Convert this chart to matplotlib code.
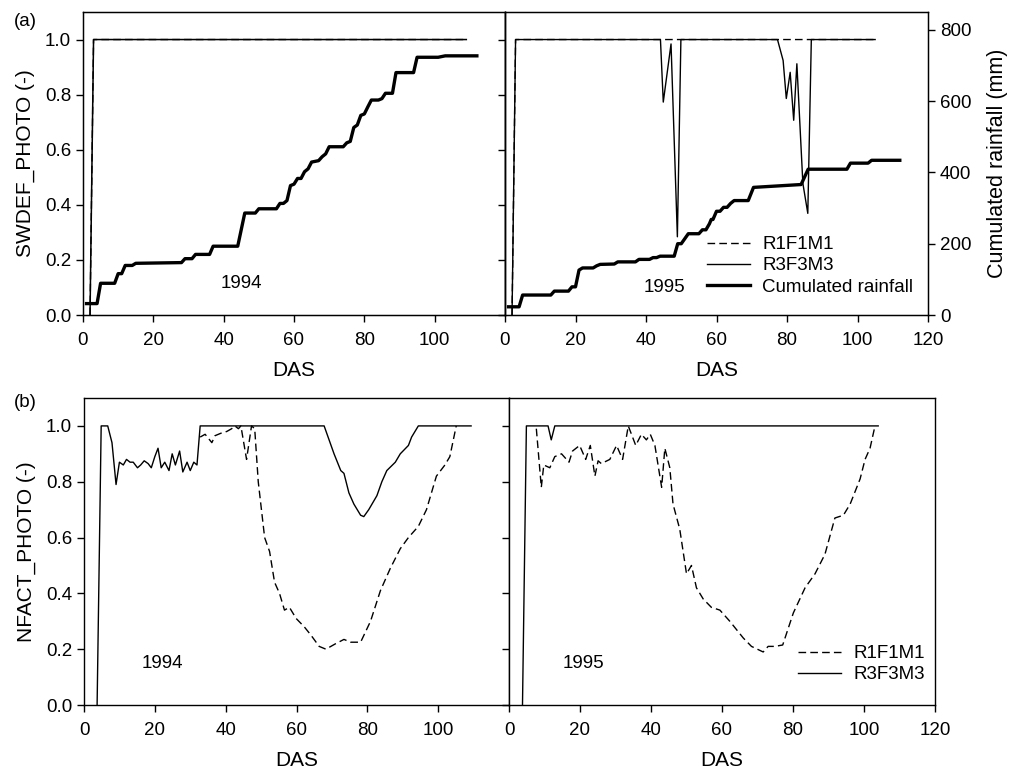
import matplotlib
matplotlib.use("Agg")
import matplotlib.pyplot as plt
from matplotlib.lines import Line2D

plt.rcParams["font.family"] = ["Liberation Sans", "DejaVu Sans"]
plt.rcParams["font.size"] = 13.5
plt.rcParams["axes.labelsize"] = 15

# (a) water deficit factor, DAS / value
swdef94_x = [2, 3, 109]
swdef94_r1 = [0, 1, 1]
swdef94_r3 = [0, 1, 1]

swdef95_r1_x = [2, 3, 105]
swdef95_r1 = [0, 1, 1]
swdef95_r3_x = [2, 3, 44.1, 44.9, 47.1, 48.9, 49.9, 77.3, 78.9, 79.8, 80.9,
                81.9, 82.8, 84.5, 85.9, 86.9, 105]
swdef95_r3 = [0, 1, 1, 0.773, 0.984, 0.284, 1, 1, 0.924, 0.786, 0.881,
              0.707, 0.912, 0.478, 0.369, 1, 1]

# cumulated rainfall (mm)
rain94_x = [1, 4, 5, 9, 10, 11, 12, 14, 15, 28, 29, 31, 32, 36, 37, 44, 46, 49,
            50, 55, 56, 57, 58, 59, 60, 61, 62, 63, 64, 65, 67, 68, 69, 70, 74,
            75, 76, 77, 78, 79, 80, 81, 82, 84, 85, 86, 88, 89, 94, 95, 101,
            103, 112]
rain94 = [32, 32, 89, 89, 116, 116, 139, 139, 145, 147, 158, 158, 170, 170,
          193, 193, 286, 286, 298, 298, 313, 313, 321, 363, 367, 383, 383, 402,
          410, 429, 433, 444, 452, 472, 472, 483, 487, 526, 533, 560, 564, 584,
          603, 603, 607, 622, 622, 680, 680, 723, 723, 727, 727]

rain95_x = [1, 4, 5, 13, 14, 18, 19, 20, 21, 22, 25, 26, 27, 31, 32, 37, 38,
            41, 42, 43, 44, 48, 49, 50, 52, 55, 56, 57, 58, 58.5, 59, 60, 61,
            62, 63, 64, 65, 69, 70.5, 84, 86, 97, 98, 103, 104, 112]
rain95 = [23, 23, 56, 56, 67, 67, 79, 79, 126, 132, 132, 138, 142, 143, 149,
          149, 156, 156, 161, 161, 165, 165, 200, 200, 228, 228, 239, 239, 256,
          268, 268, 291, 291, 302, 302, 313, 321, 321, 358, 366, 409, 409, 426,
          426, 434, 434]

# (b) nitrogen factor
nf94_r3_x = [3.7, 4.85, 6.7, 7.9, 9.05, 10, 11.1, 12, 13, 13.9, 15.1, 16, 17,
             18.1, 19, 20, 20.9, 21.8, 22.8, 24, 24.9, 25.8, 27, 27.9, 29.1,
             30, 31, 31.9, 32.8, 67.8, 69.2, 70.6, 72.5, 73.4, 74.8, 76.2,
             78.1, 79, 80.4, 82.7, 84.1, 85.5, 87.9, 89.3, 91.6, 92.5, 94.4,
             109.3]
nf94_r3 = [0, 1, 1, 0.94, 0.79, 0.87, 0.86, 0.88, 0.87, 0.87, 0.85, 0.86,
           0.875, 0.865, 0.85, 0.89, 0.92, 0.85, 0.87, 0.84, 0.9, 0.86, 0.91,
           0.835, 0.87, 0.84, 0.87, 0.86, 1, 1, 0.95, 0.9, 0.84, 0.83, 0.76,
           0.72, 0.68, 0.675, 0.7, 0.75, 0.8, 0.84, 0.87, 0.9, 0.93, 0.96, 1,
           1]
nf94_r1_x = [32.8, 34.2, 36.1, 37, 38.9, 40.3, 41.7, 42.6, 43.6, 44.3, 45.9,
             47.3, 48.2, 49.2, 51, 52.4, 53.8, 55.2, 56.6, 58, 59.9, 62.2,
             64.1, 66.4, 68.3, 71.1, 73.4, 75.3, 78.1, 80.9, 83.7, 86.5, 89.3,
             91.6, 94.4, 96.7, 99.5, 101.9, 103.3, 105.1]
nf94_r1 = [0.96, 0.97, 0.94, 0.965, 0.975, 0.98, 0.99, 1, 0.99, 1, 0.88, 1,
           0.99, 0.8, 0.6, 0.55, 0.44, 0.4, 0.34, 0.35, 0.31, 0.28, 0.25,
           0.21, 0.2, 0.22, 0.235, 0.225, 0.225, 0.3, 0.41, 0.49, 0.56, 0.6,
           0.64, 0.7, 0.82, 0.86, 0.89, 1]

nf95_r3_x = [3.8, 4.9, 11, 11.9, 12.9, 104]
nf95_r3 = [0, 1, 1, 0.95, 1, 1]
nf95_r1_x = [7.7, 9.1, 9.8, 11.5, 12.9, 14.8, 16.9, 17.9, 19.9, 21.6, 22.9,
             24.2, 25.1, 26, 28.4, 30.3, 32, 33.6, 35.7, 37.3, 38.7, 39.8,
             41.1, 43, 43.9, 45.3, 46.2, 48.1, 50, 51.4, 52.8, 54.7, 57, 59.4,
             62.2, 64.1, 66, 68.3, 71.6, 73, 74.9, 77.1, 80.1, 83.4, 86.2, 89,
             91.8, 94.2, 96.1, 98.9, 100.3, 101.7, 103.1]
nf95_r1 = [0.99, 0.78, 0.86, 0.85, 0.89, 0.9, 0.87, 0.91, 0.93, 0.88, 0.93,
           0.82, 0.875, 0.865, 0.88, 0.93, 0.88, 1, 0.93, 0.97, 0.95, 0.97,
           0.93, 0.78, 0.92, 0.85, 0.72, 0.63, 0.47, 0.5, 0.42, 0.38, 0.35,
           0.34, 0.3, 0.27, 0.24, 0.21, 0.19, 0.21, 0.21, 0.215, 0.33, 0.42,
           0.47, 0.54, 0.67, 0.68, 0.72, 0.81, 0.88, 0.92, 1]

DASH = (5.5, 3)
W, H = 1009, 774


def box(x0, y_top, x1, y_bot):
    return [x0 / W, 1 - y_bot / H, (x1 - x0) / W, (y_bot - y_top) / H]


def style(ax, left_labels=True):
    ax.set_xlim(0, 120)
    ax.set_ylim(0, 1.1)
    ax.set_yticks([0, 0.2, 0.4, 0.6, 0.8, 1.0])
    ax.tick_params(direction="out", length=5, width=1, top=False, right=False,
                   labelleft=left_labels)
    ax.tick_params(axis="x", pad=7)
    for s in ax.spines.values():
        s.set_linewidth(1)
    ax.set_xlabel("DAS", labelpad=9)
    if left_labels:
        ax.set_xticks([0, 20, 40, 60, 80, 100])
        ax.yaxis.set_major_formatter(matplotlib.ticker.FormatStrFormatter("%.1f"))
    else:
        ax.set_xticks([0, 20, 40, 60, 80, 100, 120])


fig = plt.figure(figsize=(10.09, 7.74), dpi=100)

# ---- (a) ----
ax1 = fig.add_axes(box(83, 12, 505, 315))
ax2 = fig.add_axes(box(505, 12, 928, 315))
style(ax1)
style(ax2, left_labels=False)
ax1.set_ylabel("SWDEF_PHOTO (-)", labelpad=7)

ax1.plot(swdef94_x, swdef94_r1, color="k", lw=1, dashes=DASH)
ax1.plot(swdef94_x, swdef94_r3, color="k", lw=1.1)
ax1r = ax1.twinx()
ax1r.set_ylim(0, 850)
ax1r.set_yticks([])
ax1r.spines["right"].set_linewidth(1)
ax1r.plot(rain94_x, rain94, color="k", lw=2.4)

ax2.plot(swdef95_r1_x, swdef95_r1, color="k", lw=1, dashes=DASH)
ax2.plot(swdef95_r3_x, swdef95_r3, color="k", lw=1.0)
ax2r = ax2.twinx()
ax2r.set_ylim(0, 850)
ax2r.set_yticks([0, 200, 400, 600, 800])
ax2r.tick_params(direction="out", length=5, width=1)
ax2r.set_ylabel("Cumulated rainfall (mm)", labelpad=11, fontsize=15.5)
ax2r.plot(rain95_x, rain95, color="k", lw=2.4)

ax1.text(45, 0.116, "1994", ha="center", va="center")
ax2.text(45.3, 0.10, "1995", ha="center", va="center")

handles_a = [Line2D([], [], color="k", lw=1, dashes=DASH),
             Line2D([], [], color="k", lw=1),
             Line2D([], [], color="k", lw=2.4)]
fig.legend(handles_a, ["R1F1M1", "R3F3M3", "Cumulated rainfall"],
           loc="upper left", bbox_to_anchor=(707 / W, 1 - 236 / H),
           frameon=False, borderpad=0, borderaxespad=0, handlelength=2.3,
           handletextpad=0.64, labelspacing=0.22)

# ---- (b) ----
ax3 = fig.add_axes(box(84, 398, 509, 705))
ax4 = fig.add_axes(box(509, 398, 935, 705))
style(ax3)
style(ax4, left_labels=False)
ax3.set_ylabel("NFACT_PHOTO (-)", labelpad=7)

ax3.plot(nf94_r1_x, nf94_r1, color="k", lw=1, dashes=DASH)
ax3.plot(nf94_r3_x, nf94_r3, color="k", lw=1)
ax4.plot(nf95_r1_x, nf95_r1, color="k", lw=1, dashes=DASH)
ax4.plot(nf95_r3_x, nf95_r3, color="k", lw=1)

ax3.text(22, 0.15, "1994", ha="center", va="center")
ax4.text(21, 0.15, "1995", ha="center", va="center")

handles_b = [Line2D([], [], color="k", lw=1, dashes=DASH),
             Line2D([], [], color="k", lw=1)]
fig.legend(handles_b, ["R1F1M1", "R3F3M3"],
           loc="upper left", bbox_to_anchor=(798 / W, 1 - 645 / H),
           frameon=False, borderpad=0, borderaxespad=0, handlelength=2.3,
           handletextpad=0.64, labelspacing=0.22)

fig.text(14 / W, 1 - 21 / H, "(a)", va="center", ha="left")
fig.text(14 / W, 1 - 403 / H, "(b)", va="center", ha="left")

fig.savefig("out.png", dpi=100)
